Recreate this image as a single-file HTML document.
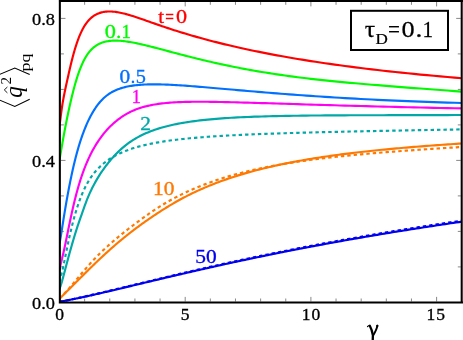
<!DOCTYPE html>
<html><head><meta charset="utf-8"><title>chart</title>
<style>html,body{margin:0;padding:0;background:#fff;}body{width:463px;height:340px;overflow:hidden;font-family:"Liberation Serif",serif;}</style>
</head><body>
<svg width="463" height="340" viewBox="0 0 463 340" style="display:block;will-change:transform">
<rect x="0" y="0" width="463" height="340" fill="#ffffff"/>
<path d="M84.64,301.50v-3.0M84.64,1.80v3.0M109.78,301.50v-3.0M109.78,1.80v3.0M134.92,301.50v-3.0M134.92,1.80v3.0M160.06,301.50v-3.0M160.06,1.80v3.0M185.20,301.50v-4.6M185.20,1.80v4.6M210.34,301.50v-3.0M210.34,1.80v3.0M235.48,301.50v-3.0M235.48,1.80v3.0M260.62,301.50v-3.0M260.62,1.80v3.0M285.76,301.50v-3.0M285.76,1.80v3.0M310.90,301.50v-4.6M310.90,1.80v4.6M336.04,301.50v-3.0M336.04,1.80v3.0M361.18,301.50v-3.0M361.18,1.80v3.0M386.32,301.50v-3.0M386.32,1.80v3.0M411.46,301.50v-3.0M411.46,1.80v3.0M436.60,301.50v-4.6M436.60,1.80v4.6M60.90,266.90h3.0M460.80,266.90h-3.0M60.90,231.40h3.0M460.80,231.40h-3.0M60.90,195.90h3.0M460.80,195.90h-3.0M60.90,160.40h4.6M460.80,160.40h-4.6M60.90,124.90h3.0M460.80,124.90h-3.0M60.90,89.40h3.0M460.80,89.40h-3.0M60.90,53.90h3.0M460.80,53.90h-3.0M60.90,18.40h4.6M460.80,18.40h-4.6" stroke="#555" stroke-width="0.7" fill="none"/>
<clipPath id="cp"><rect x="59.85" y="0" width="403.2" height="302.6"/></clipPath><g fill="none" stroke-width="2.15" stroke-linejoin="round" clip-path="url(#cp)">
<path d="M59.50,126.00 L59.57,125.48 L59.65,124.93 L59.72,124.37 L59.80,123.79 L59.87,123.20 L59.95,122.58 L60.03,121.95 L60.11,121.31 L60.20,120.65 L60.28,119.98 L60.37,119.30 L60.45,118.60 L60.54,117.89 L60.63,117.18 L60.73,116.45 L60.82,115.71 L60.92,114.97 L61.01,114.22 L61.11,113.46 L61.21,112.70 L61.32,111.94 L61.42,111.16 L61.53,110.39 L61.64,109.61 L61.75,108.84 L61.86,108.06 L61.98,107.28 L62.09,106.50 L62.21,105.73 L62.33,104.95 L62.45,104.18 L62.58,103.41 L62.71,102.65 L62.84,101.88 L62.97,101.12 L63.10,100.35 L63.24,99.59 L63.38,98.82 L63.52,98.05 L63.67,97.28 L63.81,96.51 L63.96,95.73 L64.11,94.95 L64.27,94.17 L64.43,93.38 L64.59,92.59 L64.75,91.78 L64.92,90.98 L65.09,90.16 L65.26,89.34 L65.44,88.51 L65.61,87.67 L65.80,86.82 L65.98,85.96 L66.17,85.09 L66.36,84.21 L66.56,83.32 L66.76,82.41 L66.96,81.49 L67.17,80.56 L67.38,79.62 L67.59,78.66 L67.81,77.68 L68.03,76.69 L68.25,75.69 L68.48,74.67 L68.72,73.63 L68.96,72.58 L69.20,71.51 L69.44,70.43 L69.70,69.34 L69.95,68.24 L70.21,67.12 L70.48,66.00 L70.75,64.87 L71.02,63.74 L71.30,62.59 L71.58,61.44 L71.87,60.29 L72.17,59.13 L72.47,57.96 L72.77,56.80 L73.08,55.63 L73.40,54.47 L73.72,53.30 L74.05,52.13 L74.39,50.97 L74.72,49.81 L75.07,48.65 L75.42,47.50 L75.78,46.36 L76.15,45.22 L76.52,44.08 L76.90,42.96 L77.28,41.85 L77.67,40.74 L78.07,39.65 L78.48,38.56 L78.89,37.49 L79.31,36.44 L79.74,35.39 L80.18,34.37 L80.62,33.36 L81.08,32.36 L81.54,31.39 L82.00,30.43 L82.48,29.49 L82.97,28.57 L83.46,27.68 L83.97,26.80 L84.48,25.95 L85.00,25.13 L85.53,24.32 L86.07,23.55 L86.62,22.80 L87.18,22.07 L87.75,21.36 L88.33,20.69 L88.92,20.03 L89.52,19.40 L90.14,18.80 L90.76,18.22 L91.40,17.66 L92.04,17.13 L92.70,16.62 L93.37,16.14 L94.05,15.68 L94.74,15.25 L95.45,14.84 L96.17,14.45 L96.90,14.09 L97.65,13.75 L98.41,13.43 L99.18,13.14 L99.96,12.88 L100.76,12.63 L101.58,12.41 L102.41,12.22 L103.25,12.05 L104.11,11.90 L104.99,11.77 L105.88,11.67 L106.79,11.59 L107.71,11.54 L108.65,11.51 L109.61,11.50 L110.58,11.51 L111.57,11.55 L112.58,11.61 L113.61,11.70 L114.65,11.80 L115.72,11.94 L116.80,12.09 L117.91,12.27 L119.03,12.46 L120.17,12.69 L121.34,12.93 L122.52,13.20 L123.73,13.49 L124.96,13.80 L126.21,14.13 L127.48,14.49 L128.77,14.86 L130.09,15.25 L131.44,15.66 L132.80,16.09 L134.19,16.54 L135.61,17.00 L137.05,17.48 L138.52,17.98 L140.01,18.48 L141.54,19.01 L143.08,19.55 L144.66,20.10 L146.27,20.66 L147.90,21.23 L149.56,21.82 L151.26,22.41 L152.98,23.02 L154.73,23.63 L156.52,24.26 L158.34,24.89 L160.19,25.53 L162.07,26.17 L163.99,26.82 L165.95,27.48 L167.93,28.14 L169.96,28.81 L172.02,29.48 L174.12,30.15 L176.25,30.83 L178.42,31.52 L180.64,32.20 L182.89,32.90 L185.18,33.59 L187.52,34.29 L189.89,34.99 L192.31,35.70 L194.77,36.40 L197.28,37.11 L199.83,37.83 L202.43,38.54 L205.08,39.26 L207.77,39.98 L210.51,40.70 L213.30,41.43 L216.14,42.15 L219.03,42.88 L221.98,43.61 L224.97,44.34 L228.02,45.07 L231.13,45.80 L234.29,46.53 L237.51,47.27 L240.78,48.00 L244.12,48.73 L247.51,49.47 L250.97,50.20 L254.49,50.93 L258.07,51.67 L261.72,52.40 L265.43,53.13 L269.21,53.86 L273.05,54.59 L276.97,55.32 L280.96,56.05 L285.01,56.77 L289.15,57.49 L293.35,58.22 L297.63,58.94 L301.99,59.65 L306.43,60.37 L310.94,61.08 L315.54,61.79 L320.22,62.50 L324.99,63.20 L329.84,63.90 L334.78,64.60 L339.80,65.30 L344.92,65.99 L350.13,66.67 L355.44,67.36 L360.83,68.04 L366.33,68.71 L371.92,69.38 L377.62,70.04 L383.42,70.71 L389.32,71.36 L395.33,72.01 L401.45,72.66 L407.67,73.30 L414.01,73.93 L420.47,74.56 L427.04,75.18 L433.72,75.80 L440.53,76.41 L447.46,77.01 L454.52,77.61 L461.70,78.20" stroke="#ff0000"/>
<path d="M59.50,159.60 L59.57,159.23 L59.65,158.85 L59.72,158.45 L59.80,158.04 L59.87,157.63 L59.95,157.20 L60.03,156.76 L60.11,156.31 L60.20,155.85 L60.28,155.37 L60.37,154.89 L60.45,154.39 L60.54,153.89 L60.63,153.37 L60.73,152.84 L60.82,152.30 L60.92,151.75 L61.01,151.19 L61.11,150.61 L61.21,150.03 L61.32,149.43 L61.42,148.83 L61.53,148.21 L61.64,147.58 L61.75,146.94 L61.86,146.29 L61.98,145.63 L62.09,144.96 L62.21,144.27 L62.33,143.58 L62.45,142.87 L62.58,142.16 L62.71,141.43 L62.84,140.69 L62.97,139.95 L63.10,139.19 L63.24,138.42 L63.38,137.64 L63.52,136.84 L63.67,136.04 L63.81,135.23 L63.96,134.41 L64.11,133.57 L64.27,132.73 L64.43,131.87 L64.59,131.00 L64.75,130.13 L64.92,129.24 L65.09,128.34 L65.26,127.43 L65.44,126.51 L65.61,125.59 L65.80,124.64 L65.98,123.69 L66.17,122.73 L66.36,121.76 L66.56,120.78 L66.76,119.79 L66.96,118.78 L67.17,117.77 L67.38,116.75 L67.59,115.71 L67.81,114.67 L68.03,113.61 L68.25,112.55 L68.48,111.47 L68.72,110.39 L68.96,109.29 L69.20,108.18 L69.44,107.07 L69.70,105.94 L69.95,104.80 L70.21,103.66 L70.48,102.50 L70.75,101.33 L71.02,100.15 L71.30,98.97 L71.58,97.77 L71.87,96.56 L72.17,95.35 L72.47,94.14 L72.77,92.91 L73.08,91.69 L73.40,90.46 L73.72,89.22 L74.05,87.99 L74.39,86.75 L74.72,85.52 L75.07,84.29 L75.42,83.06 L75.78,81.83 L76.15,80.60 L76.52,79.38 L76.90,78.17 L77.28,76.96 L77.67,75.76 L78.07,74.57 L78.48,73.39 L78.89,72.22 L79.31,71.06 L79.74,69.91 L80.18,68.78 L80.62,67.66 L81.08,66.55 L81.54,65.46 L82.00,64.39 L82.48,63.33 L82.97,62.30 L83.46,61.28 L83.97,60.28 L84.48,59.30 L85.00,58.35 L85.53,57.42 L86.07,56.51 L86.62,55.63 L87.18,54.78 L87.75,53.95 L88.33,53.14 L88.92,52.37 L89.52,51.62 L90.14,50.90 L90.76,50.21 L91.40,49.54 L92.04,48.90 L92.70,48.28 L93.37,47.69 L94.05,47.13 L94.74,46.59 L95.45,46.08 L96.17,45.59 L96.90,45.12 L97.65,44.68 L98.41,44.26 L99.18,43.87 L99.96,43.50 L100.76,43.16 L101.58,42.84 L102.41,42.54 L103.25,42.26 L104.11,42.01 L104.99,41.77 L105.88,41.56 L106.79,41.38 L107.71,41.21 L108.65,41.06 L109.61,40.94 L110.58,40.84 L111.57,40.75 L112.58,40.69 L113.61,40.65 L114.65,40.63 L115.72,40.62 L116.80,40.64 L117.91,40.68 L119.03,40.73 L120.17,40.80 L121.34,40.90 L122.52,41.01 L123.73,41.14 L124.96,41.28 L126.21,41.45 L127.48,41.63 L128.77,41.83 L130.09,42.04 L131.44,42.27 L132.80,42.52 L134.19,42.79 L135.61,43.07 L137.05,43.36 L138.52,43.68 L140.01,44.00 L141.54,44.35 L143.08,44.70 L144.66,45.07 L146.27,45.46 L147.90,45.86 L149.56,46.28 L151.26,46.70 L152.98,47.14 L154.73,47.60 L156.52,48.06 L158.34,48.54 L160.19,49.03 L162.07,49.53 L163.99,50.04 L165.95,50.56 L167.93,51.09 L169.96,51.63 L172.02,52.18 L174.12,52.73 L176.25,53.30 L178.42,53.87 L180.64,54.45 L182.89,55.04 L185.18,55.63 L187.52,56.23 L189.89,56.83 L192.31,57.44 L194.77,58.06 L197.28,58.68 L199.83,59.30 L202.43,59.93 L205.08,60.56 L207.77,61.19 L210.51,61.82 L213.30,62.46 L216.14,63.10 L219.03,63.73 L221.98,64.37 L224.97,65.01 L228.02,65.65 L231.13,66.29 L234.29,66.93 L237.51,67.56 L240.78,68.20 L244.12,68.83 L247.51,69.46 L250.97,70.09 L254.49,70.71 L258.07,71.33 L261.72,71.94 L265.43,72.55 L269.21,73.15 L273.05,73.75 L276.97,74.35 L280.96,74.93 L285.01,75.51 L289.15,76.08 L293.35,76.65 L297.63,77.20 L301.99,77.75 L306.43,78.29 L310.94,78.82 L315.54,79.34 L320.22,79.86 L324.99,80.36 L329.84,80.86 L334.78,81.36 L339.80,81.85 L344.92,82.33 L350.13,82.81 L355.44,83.29 L360.83,83.77 L366.33,84.24 L371.92,84.72 L377.62,85.19 L383.42,85.66 L389.32,86.14 L395.33,86.61 L401.45,87.09 L407.67,87.57 L414.01,88.06 L420.47,88.54 L427.04,89.04 L433.72,89.54 L440.53,90.04 L447.46,90.55 L454.52,91.07 L461.70,91.60" stroke="#00fa00"/>
<path d="M59.50,243.50 L59.57,243.16 L59.65,242.81 L59.72,242.43 L59.80,242.05 L59.87,241.65 L59.95,241.23 L60.03,240.79 L60.11,240.35 L60.20,239.88 L60.28,239.40 L60.37,238.91 L60.45,238.40 L60.54,237.87 L60.63,237.33 L60.73,236.78 L60.82,236.21 L60.92,235.63 L61.01,235.03 L61.11,234.42 L61.21,233.79 L61.32,233.15 L61.42,232.49 L61.53,231.82 L61.64,231.13 L61.75,230.43 L61.86,229.72 L61.98,228.99 L62.09,228.25 L62.21,227.50 L62.33,226.73 L62.45,225.95 L62.58,225.15 L62.71,224.34 L62.84,223.52 L62.97,222.68 L63.10,221.83 L63.24,220.97 L63.38,220.09 L63.52,219.20 L63.67,218.30 L63.81,217.38 L63.96,216.45 L64.11,215.51 L64.27,214.56 L64.43,213.59 L64.59,212.61 L64.75,211.62 L64.92,210.61 L65.09,209.59 L65.26,208.56 L65.44,207.52 L65.61,206.47 L65.80,205.40 L65.98,204.32 L66.17,203.23 L66.36,202.13 L66.56,201.02 L66.76,199.89 L66.96,198.75 L67.17,197.60 L67.38,196.44 L67.59,195.27 L67.81,194.09 L68.03,192.89 L68.25,191.69 L68.48,190.47 L68.72,189.24 L68.96,188.00 L69.20,186.75 L69.44,185.49 L69.70,184.22 L69.95,182.94 L70.21,181.64 L70.48,180.34 L70.75,179.02 L71.02,177.70 L71.30,176.37 L71.58,175.03 L71.87,173.68 L72.17,172.33 L72.47,170.97 L72.77,169.60 L73.08,168.23 L73.40,166.85 L73.72,165.47 L74.05,164.08 L74.39,162.69 L74.72,161.30 L75.07,159.90 L75.42,158.50 L75.78,157.10 L76.15,155.70 L76.52,154.30 L76.90,152.90 L77.28,151.50 L77.67,150.11 L78.07,148.71 L78.48,147.31 L78.89,145.92 L79.31,144.53 L79.74,143.15 L80.18,141.77 L80.62,140.39 L81.08,139.02 L81.54,137.65 L82.00,136.29 L82.48,134.94 L82.97,133.59 L83.46,132.26 L83.97,130.93 L84.48,129.61 L85.00,128.30 L85.53,127.00 L86.07,125.71 L86.62,124.43 L87.18,123.16 L87.75,121.90 L88.33,120.66 L88.92,119.43 L89.52,118.21 L90.14,117.01 L90.76,115.82 L91.40,114.65 L92.04,113.50 L92.70,112.36 L93.37,111.24 L94.05,110.14 L94.74,109.06 L95.45,107.99 L96.17,106.95 L96.90,105.93 L97.65,104.93 L98.41,103.95 L99.18,102.99 L99.96,102.06 L100.76,101.15 L101.58,100.27 L102.41,99.41 L103.25,98.58 L104.11,97.77 L104.99,96.99 L105.88,96.24 L106.79,95.51 L107.71,94.82 L108.65,94.15 L109.61,93.51 L110.58,92.90 L111.57,92.31 L112.58,91.75 L113.61,91.21 L114.65,90.70 L115.72,90.21 L116.80,89.75 L117.91,89.31 L119.03,88.89 L120.17,88.49 L121.34,88.12 L122.52,87.76 L123.73,87.43 L124.96,87.12 L126.21,86.82 L127.48,86.55 L128.77,86.29 L130.09,86.05 L131.44,85.83 L132.80,85.63 L134.19,85.44 L135.61,85.27 L137.05,85.11 L138.52,84.97 L140.01,84.84 L141.54,84.73 L143.08,84.63 L144.66,84.55 L146.27,84.48 L147.90,84.43 L149.56,84.39 L151.26,84.36 L152.98,84.35 L154.73,84.34 L156.52,84.36 L158.34,84.38 L160.19,84.41 L162.07,84.46 L163.99,84.52 L165.95,84.59 L167.93,84.67 L169.96,84.76 L172.02,84.86 L174.12,84.98 L176.25,85.10 L178.42,85.23 L180.64,85.37 L182.89,85.52 L185.18,85.68 L187.52,85.85 L189.89,86.03 L192.31,86.21 L194.77,86.40 L197.28,86.61 L199.83,86.81 L202.43,87.03 L205.08,87.25 L207.77,87.48 L210.51,87.72 L213.30,87.96 L216.14,88.21 L219.03,88.46 L221.98,88.72 L224.97,88.98 L228.02,89.25 L231.13,89.53 L234.29,89.80 L237.51,90.09 L240.78,90.37 L244.12,90.66 L247.51,90.96 L250.97,91.25 L254.49,91.55 L258.07,91.85 L261.72,92.16 L265.43,92.46 L269.21,92.77 L273.05,93.08 L276.97,93.39 L280.96,93.71 L285.01,94.02 L289.15,94.33 L293.35,94.65 L297.63,94.96 L301.99,95.28 L306.43,95.59 L310.94,95.91 L315.54,96.22 L320.22,96.53 L324.99,96.84 L329.84,97.15 L334.78,97.45 L339.80,97.76 L344.92,98.06 L350.13,98.36 L355.44,98.66 L360.83,98.95 L366.33,99.24 L371.92,99.52 L377.62,99.81 L383.42,100.08 L389.32,100.36 L395.33,100.63 L401.45,100.89 L407.67,101.15 L414.01,101.40 L420.47,101.65 L427.04,101.89 L433.72,102.13 L440.53,102.35 L447.46,102.58 L454.52,102.79 L461.70,103.00" stroke="#0070ff"/>
<path d="M59.50,270.00 L59.57,269.59 L59.65,269.18 L59.72,268.77 L59.80,268.37 L59.87,267.97 L59.95,267.57 L60.03,267.17 L60.11,266.78 L60.20,266.39 L60.28,265.99 L60.37,265.60 L60.45,265.21 L60.54,264.81 L60.63,264.41 L60.73,264.01 L60.82,263.61 L60.92,263.20 L61.01,262.79 L61.11,262.38 L61.21,261.96 L61.32,261.53 L61.42,261.10 L61.53,260.66 L61.64,260.22 L61.75,259.76 L61.86,259.30 L61.98,258.83 L62.09,258.35 L62.21,257.86 L62.33,257.36 L62.45,256.85 L62.58,256.33 L62.71,255.80 L62.84,255.25 L62.97,254.69 L63.10,254.12 L63.24,253.53 L63.38,252.93 L63.52,252.31 L63.67,251.68 L63.81,251.03 L63.96,250.37 L64.11,249.69 L64.27,248.99 L64.43,248.27 L64.59,247.53 L64.75,246.78 L64.92,246.00 L65.09,245.20 L65.26,244.39 L65.44,243.55 L65.61,242.69 L65.80,241.80 L65.98,240.90 L66.17,239.98 L66.36,239.03 L66.56,238.07 L66.76,237.09 L66.96,236.08 L67.17,235.06 L67.38,234.02 L67.59,232.96 L67.81,231.89 L68.03,230.79 L68.25,229.68 L68.48,228.56 L68.72,227.41 L68.96,226.25 L69.20,225.08 L69.44,223.89 L69.70,222.68 L69.95,221.46 L70.21,220.23 L70.48,218.98 L70.75,217.72 L71.02,216.45 L71.30,215.16 L71.58,213.86 L71.87,212.55 L72.17,211.23 L72.47,209.90 L72.77,208.55 L73.08,207.20 L73.40,205.84 L73.72,204.47 L74.05,203.10 L74.39,201.72 L74.72,200.33 L75.07,198.94 L75.42,197.54 L75.78,196.14 L76.15,194.74 L76.52,193.33 L76.90,191.92 L77.28,190.51 L77.67,189.10 L78.07,187.70 L78.48,186.29 L78.89,184.88 L79.31,183.48 L79.74,182.08 L80.18,180.68 L80.62,179.29 L81.08,177.90 L81.54,176.52 L82.00,175.15 L82.48,173.78 L82.97,172.41 L83.46,171.06 L83.97,169.71 L84.48,168.36 L85.00,167.02 L85.53,165.69 L86.07,164.37 L86.62,163.06 L87.18,161.75 L87.75,160.45 L88.33,159.16 L88.92,157.87 L89.52,156.60 L90.14,155.33 L90.76,154.08 L91.40,152.83 L92.04,151.59 L92.70,150.36 L93.37,149.14 L94.05,147.93 L94.74,146.73 L95.45,145.54 L96.17,144.36 L96.90,143.19 L97.65,142.04 L98.41,140.89 L99.18,139.75 L99.96,138.63 L100.76,137.52 L101.58,136.42 L102.41,135.33 L103.25,134.25 L104.11,133.19 L104.99,132.14 L105.88,131.10 L106.79,130.07 L107.71,129.06 L108.65,128.06 L109.61,127.08 L110.58,126.11 L111.57,125.15 L112.58,124.21 L113.61,123.28 L114.65,122.36 L115.72,121.46 L116.80,120.58 L117.91,119.71 L119.03,118.86 L120.17,118.02 L121.34,117.21 L122.52,116.41 L123.73,115.63 L124.96,114.87 L126.21,114.13 L127.48,113.41 L128.77,112.72 L130.09,112.04 L131.44,111.39 L132.80,110.77 L134.19,110.17 L135.61,109.59 L137.05,109.04 L138.52,108.51 L140.01,108.01 L141.54,107.53 L143.08,107.07 L144.66,106.64 L146.27,106.23 L147.90,105.84 L149.56,105.47 L151.26,105.12 L152.98,104.79 L154.73,104.48 L156.52,104.19 L158.34,103.92 L160.19,103.67 L162.07,103.44 L163.99,103.22 L165.95,103.02 L167.93,102.84 L169.96,102.67 L172.02,102.52 L174.12,102.38 L176.25,102.26 L178.42,102.15 L180.64,102.06 L182.89,101.98 L185.18,101.91 L187.52,101.85 L189.89,101.81 L192.31,101.77 L194.77,101.75 L197.28,101.74 L199.83,101.73 L202.43,101.74 L205.08,101.76 L207.77,101.78 L210.51,101.81 L213.30,101.85 L216.14,101.90 L219.03,101.95 L221.98,102.01 L224.97,102.08 L228.02,102.15 L231.13,102.22 L234.29,102.30 L237.51,102.38 L240.78,102.47 L244.12,102.56 L247.51,102.65 L250.97,102.75 L254.49,102.86 L258.07,102.96 L261.72,103.07 L265.43,103.18 L269.21,103.30 L273.05,103.41 L276.97,103.53 L280.96,103.66 L285.01,103.78 L289.15,103.91 L293.35,104.04 L297.63,104.18 L301.99,104.31 L306.43,104.45 L310.94,104.59 L315.54,104.73 L320.22,104.87 L324.99,105.01 L329.84,105.15 L334.78,105.30 L339.80,105.45 L344.92,105.59 L350.13,105.74 L355.44,105.89 L360.83,106.04 L366.33,106.19 L371.92,106.34 L377.62,106.49 L383.42,106.64 L389.32,106.79 L395.33,106.94 L401.45,107.09 L407.67,107.24 L414.01,107.39 L420.47,107.54 L427.04,107.68 L433.72,107.83 L440.53,107.97 L447.46,108.12 L454.52,108.26 L461.70,108.40" stroke="#ff00f0"/>
<path d="M59.50,288.50 L59.57,288.37 L59.65,288.23 L59.72,288.09 L59.80,287.93 L59.87,287.76 L59.95,287.58 L60.03,287.40 L60.11,287.20 L60.20,286.99 L60.28,286.77 L60.37,286.54 L60.45,286.30 L60.54,286.05 L60.63,285.79 L60.73,285.52 L60.82,285.24 L60.92,284.95 L61.01,284.65 L61.11,284.33 L61.21,284.01 L61.32,283.68 L61.42,283.33 L61.53,282.98 L61.64,282.61 L61.75,282.23 L61.86,281.85 L61.98,281.45 L62.09,281.04 L62.21,280.62 L62.33,280.19 L62.45,279.75 L62.58,279.29 L62.71,278.83 L62.84,278.35 L62.97,277.87 L63.10,277.37 L63.24,276.86 L63.38,276.34 L63.52,275.81 L63.67,275.27 L63.81,274.71 L63.96,274.15 L64.11,273.57 L64.27,272.98 L64.43,272.38 L64.59,271.77 L64.75,271.15 L64.92,270.52 L65.09,269.87 L65.26,269.21 L65.44,268.54 L65.61,267.86 L65.80,267.17 L65.98,266.47 L66.17,265.75 L66.36,265.02 L66.56,264.28 L66.76,263.53 L66.96,262.77 L67.17,261.99 L67.38,261.21 L67.59,260.41 L67.81,259.60 L68.03,258.77 L68.25,257.94 L68.48,257.09 L68.72,256.23 L68.96,255.36 L69.20,254.47 L69.44,253.57 L69.70,252.66 L69.95,251.74 L70.21,250.81 L70.48,249.86 L70.75,248.90 L71.02,247.93 L71.30,246.95 L71.58,245.95 L71.87,244.94 L72.17,243.92 L72.47,242.88 L72.77,241.83 L73.08,240.77 L73.40,239.70 L73.72,238.62 L74.05,237.52 L74.39,236.40 L74.72,235.28 L75.07,234.14 L75.42,232.99 L75.78,231.83 L76.15,230.66 L76.52,229.49 L76.90,228.31 L77.28,227.12 L77.67,225.93 L78.07,224.74 L78.48,223.55 L78.89,222.35 L79.31,221.14 L79.74,219.92 L80.18,218.68 L80.62,217.43 L81.08,216.15 L81.54,214.84 L82.00,213.50 L82.48,212.13 L82.97,210.73 L83.46,209.30 L83.97,207.86 L84.48,206.41 L85.00,204.96 L85.53,203.51 L86.07,202.06 L86.62,200.64 L87.18,199.22 L87.75,197.82 L88.33,196.43 L88.92,195.05 L89.52,193.69 L90.14,192.33 L90.76,190.99 L91.40,189.66 L92.04,188.34 L92.70,187.03 L93.37,185.73 L94.05,184.44 L94.74,183.15 L95.45,181.88 L96.17,180.61 L96.90,179.36 L97.65,178.11 L98.41,176.86 L99.18,175.63 L99.96,174.40 L100.76,173.18 L101.58,171.96 L102.41,170.75 L103.25,169.54 L104.11,168.34 L104.99,167.15 L105.88,165.95 L106.79,164.77 L107.71,163.58 L108.65,162.40 L109.61,161.23 L110.58,160.06 L111.57,158.90 L112.58,157.75 L113.61,156.60 L114.65,155.47 L115.72,154.35 L116.80,153.23 L117.91,152.13 L119.03,151.05 L120.17,149.98 L121.34,148.92 L122.52,147.87 L123.73,146.85 L124.96,145.84 L126.21,144.85 L127.48,143.88 L128.77,142.93 L130.09,141.99 L131.44,141.08 L132.80,140.20 L134.19,139.33 L135.61,138.48 L137.05,137.65 L138.52,136.85 L140.01,136.06 L141.54,135.29 L143.08,134.54 L144.66,133.81 L146.27,133.10 L147.90,132.41 L149.56,131.74 L151.26,131.08 L152.98,130.45 L154.73,129.83 L156.52,129.22 L158.34,128.64 L160.19,128.07 L162.07,127.52 L163.99,126.98 L165.95,126.46 L167.93,125.96 L169.96,125.47 L172.02,125.00 L174.12,124.54 L176.25,124.10 L178.42,123.67 L180.64,123.25 L182.89,122.85 L185.18,122.47 L187.52,122.10 L189.89,121.74 L192.31,121.39 L194.77,121.06 L197.28,120.74 L199.83,120.43 L202.43,120.13 L205.08,119.85 L207.77,119.57 L210.51,119.31 L213.30,119.06 L216.14,118.82 L219.03,118.59 L221.98,118.37 L224.97,118.16 L228.02,117.97 L231.13,117.78 L234.29,117.60 L237.51,117.42 L240.78,117.26 L244.12,117.11 L247.51,116.96 L250.97,116.82 L254.49,116.69 L258.07,116.57 L261.72,116.46 L265.43,116.35 L269.21,116.25 L273.05,116.15 L276.97,116.07 L280.96,115.98 L285.01,115.91 L289.15,115.84 L293.35,115.77 L297.63,115.71 L301.99,115.65 L306.43,115.60 L310.94,115.55 L315.54,115.51 L320.22,115.47 L324.99,115.44 L329.84,115.40 L334.78,115.37 L339.80,115.35 L344.92,115.32 L350.13,115.30 L355.44,115.28 L360.83,115.26 L366.33,115.24 L371.92,115.23 L377.62,115.21 L383.42,115.20 L389.32,115.19 L395.33,115.17 L401.45,115.16 L407.67,115.15 L414.01,115.13 L420.47,115.12 L427.04,115.10 L433.72,115.09 L440.53,115.07 L447.46,115.05 L454.52,115.02 L461.70,115.00" stroke="#00a8a8"/>
<path d="M59.50,282.00 L59.57,281.64 L59.65,281.29 L59.72,280.94 L59.80,280.59 L59.87,280.25 L59.95,279.92 L60.03,279.58 L60.11,279.24 L60.20,278.91 L60.28,278.57 L60.37,278.24 L60.45,277.90 L60.54,277.56 L60.63,277.21 L60.73,276.86 L60.82,276.51 L60.92,276.15 L61.01,275.78 L61.11,275.41 L61.21,275.03 L61.32,274.64 L61.42,274.24 L61.53,273.83 L61.64,273.41 L61.75,272.98 L61.86,272.53 L61.98,272.07 L62.09,271.60 L62.21,271.11 L62.33,270.61 L62.45,270.09 L62.58,269.56 L62.71,269.00 L62.84,268.43 L62.97,267.84 L63.10,267.23 L63.24,266.59 L63.38,265.94 L63.52,265.27 L63.67,264.58 L63.81,263.87 L63.96,263.14 L64.11,262.40 L64.27,261.64 L64.43,260.86 L64.59,260.06 L64.75,259.24 L64.92,258.41 L65.09,257.57 L65.26,256.71 L65.44,255.83 L65.61,254.94 L65.80,254.03 L65.98,253.11 L66.17,252.17 L66.36,251.22 L66.56,250.26 L66.76,249.28 L66.96,248.30 L67.17,247.30 L67.38,246.28 L67.59,245.26 L67.81,244.22 L68.03,243.18 L68.25,242.12 L68.48,241.05 L68.72,239.97 L68.96,238.89 L69.20,237.79 L69.44,236.68 L69.70,235.57 L69.95,234.45 L70.21,233.31 L70.48,232.18 L70.75,231.03 L71.02,229.88 L71.30,228.72 L71.58,227.55 L71.87,226.38 L72.17,225.20 L72.47,224.02 L72.77,222.83 L73.08,221.64 L73.40,220.44 L73.72,219.24 L74.05,218.04 L74.39,216.83 L74.72,215.62 L75.07,214.41 L75.42,213.20 L75.78,212.00 L76.15,210.79 L76.52,209.58 L76.90,208.37 L77.28,207.17 L77.67,205.97 L78.07,204.77 L78.48,203.58 L78.89,202.39 L79.31,201.21 L79.74,200.03 L80.18,198.86 L80.62,197.69 L81.08,196.54 L81.54,195.39 L82.00,194.25 L82.48,193.12 L82.97,192.00 L83.46,190.88 L83.97,189.78 L84.48,188.70 L85.00,187.62 L85.53,186.56 L86.07,185.51 L86.62,184.47 L87.18,183.45 L87.75,182.44 L88.33,181.45 L88.92,180.47 L89.52,179.50 L90.14,178.55 L90.76,177.61 L91.40,176.69 L92.04,175.78 L92.70,174.89 L93.37,174.00 L94.05,173.13 L94.74,172.28 L95.45,171.44 L96.17,170.61 L96.90,169.79 L97.65,168.98 L98.41,168.19 L99.18,167.41 L99.96,166.65 L100.76,165.89 L101.58,165.15 L102.41,164.42 L103.25,163.70 L104.11,162.99 L104.99,162.30 L105.88,161.61 L106.79,160.94 L107.71,160.28 L108.65,159.63 L109.61,158.99 L110.58,158.36 L111.57,157.75 L112.58,157.14 L113.61,156.54 L114.65,155.96 L115.72,155.38 L116.80,154.82 L117.91,154.26 L119.03,153.72 L120.17,153.18 L121.34,152.66 L122.52,152.14 L123.73,151.64 L124.96,151.14 L126.21,150.65 L127.48,150.17 L128.77,149.70 L130.09,149.24 L131.44,148.79 L132.80,148.35 L134.19,147.91 L135.61,147.49 L137.05,147.07 L138.52,146.66 L140.01,146.26 L141.54,145.86 L143.08,145.48 L144.66,145.10 L146.27,144.73 L147.90,144.37 L149.56,144.01 L151.26,143.66 L152.98,143.32 L154.73,142.99 L156.52,142.66 L158.34,142.34 L160.19,142.03 L162.07,141.72 L163.99,141.42 L165.95,141.12 L167.93,140.84 L169.96,140.55 L172.02,140.28 L174.12,140.01 L176.25,139.75 L178.42,139.49 L180.64,139.24 L182.89,138.99 L185.18,138.75 L187.52,138.51 L189.89,138.28 L192.31,138.05 L194.77,137.83 L197.28,137.62 L199.83,137.41 L202.43,137.20 L205.08,137.00 L207.77,136.80 L210.51,136.61 L213.30,136.42 L216.14,136.23 L219.03,136.05 L221.98,135.87 L224.97,135.70 L228.02,135.53 L231.13,135.36 L234.29,135.20 L237.51,135.04 L240.78,134.88 L244.12,134.72 L247.51,134.57 L250.97,134.43 L254.49,134.28 L258.07,134.14 L261.72,134.00 L265.43,133.86 L269.21,133.72 L273.05,133.59 L276.97,133.46 L280.96,133.33 L285.01,133.20 L289.15,133.07 L293.35,132.95 L297.63,132.83 L301.99,132.70 L306.43,132.58 L310.94,132.46 L315.54,132.35 L320.22,132.23 L324.99,132.11 L329.84,132.00 L334.78,131.88 L339.80,131.77 L344.92,131.65 L350.13,131.54 L355.44,131.42 L360.83,131.31 L366.33,131.20 L371.92,131.08 L377.62,130.97 L383.42,130.85 L389.32,130.74 L395.33,130.62 L401.45,130.50 L407.67,130.39 L414.01,130.27 L420.47,130.15 L427.04,130.03 L433.72,129.90 L440.53,129.78 L447.46,129.66 L454.52,129.53 L461.70,129.40" stroke="#00a8a8" stroke-dasharray="3.4 3.0"/>
<path d="M59.50,298.60 L60.26,297.87 L61.02,297.14 L61.78,296.40 L62.55,295.66 L63.32,294.91 L64.10,294.15 L64.88,293.38 L65.66,292.61 L66.45,291.84 L67.24,291.05 L68.04,290.26 L68.84,289.47 L69.64,288.67 L70.45,287.87 L71.26,287.06 L72.08,286.24 L72.90,285.42 L73.72,284.60 L74.55,283.77 L75.38,282.93 L76.22,282.10 L77.06,281.25 L77.90,280.41 L78.75,279.56 L79.61,278.70 L80.47,277.85 L81.33,276.98 L82.20,276.12 L83.07,275.25 L83.94,274.38 L84.82,273.51 L85.71,272.63 L86.60,271.75 L87.49,270.87 L88.39,269.99 L89.29,269.10 L90.20,268.21 L91.11,267.32 L92.02,266.43 L92.94,265.53 L93.87,264.64 L94.80,263.74 L95.73,262.84 L96.67,261.94 L97.62,261.04 L98.57,260.14 L99.52,259.24 L100.48,258.34 L101.44,257.43 L102.41,256.53 L103.38,255.62 L104.36,254.72 L105.35,253.82 L106.33,252.91 L107.33,252.01 L108.32,251.11 L109.33,250.21 L110.34,249.30 L111.35,248.40 L112.37,247.50 L113.39,246.61 L114.42,245.71 L115.45,244.81 L116.49,243.92 L117.54,243.03 L118.59,242.14 L119.64,241.25 L120.70,240.36 L121.77,239.48 L122.84,238.60 L123.91,237.72 L124.99,236.84 L126.08,235.97 L127.17,235.10 L128.27,234.23 L129.38,233.36 L130.49,232.50 L131.60,231.64 L132.72,230.78 L133.85,229.92 L134.98,229.07 L136.12,228.22 L137.26,227.37 L138.41,226.52 L139.56,225.67 L140.72,224.83 L141.89,223.98 L143.06,223.14 L144.24,222.31 L145.42,221.47 L146.61,220.63 L147.81,219.80 L149.01,218.96 L150.22,218.13 L151.44,217.30 L152.66,216.47 L153.88,215.65 L155.12,214.82 L156.35,214.00 L157.60,213.17 L158.85,212.36 L160.11,211.54 L161.37,210.72 L162.64,209.91 L163.92,209.11 L165.20,208.30 L166.49,207.50 L167.79,206.71 L169.09,205.92 L170.40,205.13 L171.72,204.35 L173.04,203.57 L174.37,202.80 L175.71,202.03 L177.05,201.27 L178.40,200.51 L179.76,199.76 L181.12,199.02 L182.49,198.29 L183.87,197.56 L185.25,196.83 L186.64,196.12 L188.04,195.40 L189.45,194.70 L190.86,194.00 L192.28,193.31 L193.70,192.63 L195.14,191.95 L196.58,191.27 L198.03,190.61 L199.48,189.95 L200.95,189.29 L202.42,188.65 L203.89,188.01 L205.38,187.37 L206.87,186.74 L208.37,186.12 L209.88,185.50 L211.39,184.89 L212.92,184.29 L214.45,183.69 L215.99,183.10 L217.53,182.51 L219.09,181.93 L220.65,181.35 L222.22,180.78 L223.79,180.22 L225.38,179.66 L226.97,179.11 L228.58,178.56 L230.19,178.02 L231.80,177.48 L233.43,176.95 L235.06,176.43 L236.71,175.91 L238.36,175.39 L240.01,174.89 L241.68,174.38 L243.36,173.88 L245.04,173.39 L246.73,172.90 L248.44,172.42 L250.15,171.94 L251.86,171.47 L253.59,171.00 L255.33,170.54 L257.07,170.08 L258.83,169.62 L260.59,169.18 L262.36,168.73 L264.14,168.29 L265.93,167.86 L267.73,167.43 L269.53,167.00 L271.35,166.58 L273.17,166.17 L275.01,165.76 L276.85,165.35 L278.71,164.95 L280.57,164.55 L282.44,164.15 L284.32,163.76 L286.21,163.38 L288.11,163.00 L290.02,162.62 L291.94,162.25 L293.87,161.88 L295.81,161.51 L297.76,161.15 L299.72,160.80 L301.69,160.44 L303.67,160.10 L305.65,159.75 L307.65,159.41 L309.66,159.07 L311.68,158.74 L313.71,158.41 L315.75,158.08 L317.80,157.76 L319.86,157.44 L321.93,157.13 L324.01,156.81 L326.10,156.50 L328.20,156.20 L330.31,155.90 L332.43,155.60 L334.57,155.30 L336.71,155.01 L338.87,154.72 L341.03,154.44 L343.21,154.16 L345.40,153.88 L347.60,153.60 L349.81,153.33 L352.03,153.06 L354.26,152.79 L356.50,152.53 L358.76,152.26 L361.03,152.00 L363.30,151.75 L365.59,151.50 L367.89,151.24 L370.21,151.00 L372.53,150.75 L374.87,150.51 L377.21,150.27 L379.57,150.03 L381.94,149.80 L384.33,149.56 L386.72,149.33 L389.13,149.10 L391.55,148.88 L393.98,148.65 L396.43,148.43 L398.88,148.21 L401.35,148.00 L403.83,147.78 L406.33,147.57 L408.83,147.36 L411.35,147.15 L413.88,146.94 L416.43,146.74 L418.98,146.53 L421.55,146.33 L424.14,146.13 L426.73,145.93 L429.34,145.74 L431.97,145.54 L434.60,145.35 L437.25,145.16 L439.91,144.97 L442.59,144.78 L445.28,144.59 L447.98,144.41 L450.70,144.22 L453.43,144.04 L456.17,143.86 L458.93,143.68 L461.70,143.50" stroke="#ff7800"/>
<path d="M59.50,298.60 L60.26,297.86 L61.02,297.10 L61.78,296.32 L62.55,295.52 L63.32,294.71 L64.10,293.88 L64.88,293.03 L65.66,292.17 L66.45,291.30 L67.24,290.41 L68.04,289.50 L68.84,288.59 L69.64,287.66 L70.45,286.72 L71.26,285.77 L72.08,284.82 L72.90,283.85 L73.72,282.87 L74.55,281.89 L75.38,280.90 L76.22,279.90 L77.06,278.90 L77.90,277.89 L78.75,276.87 L79.61,275.86 L80.47,274.84 L81.33,273.81 L82.20,272.79 L83.07,271.76 L83.94,270.74 L84.82,269.71 L85.71,268.68 L86.60,267.66 L87.49,266.64 L88.39,265.62 L89.29,264.60 L90.20,263.59 L91.11,262.58 L92.02,261.58 L92.94,260.59 L93.87,259.60 L94.80,258.62 L95.73,257.64 L96.67,256.68 L97.62,255.71 L98.57,254.76 L99.52,253.81 L100.48,252.87 L101.44,251.94 L102.41,251.01 L103.38,250.08 L104.36,249.17 L105.35,248.25 L106.33,247.34 L107.33,246.44 L108.32,245.54 L109.33,244.65 L110.34,243.76 L111.35,242.87 L112.37,241.99 L113.39,241.11 L114.42,240.23 L115.45,239.35 L116.49,238.48 L117.54,237.62 L118.59,236.75 L119.64,235.88 L120.70,235.02 L121.77,234.16 L122.84,233.30 L123.91,232.45 L124.99,231.59 L126.08,230.73 L127.17,229.88 L128.27,229.02 L129.38,228.17 L130.49,227.32 L131.60,226.46 L132.72,225.61 L133.85,224.75 L134.98,223.89 L136.12,223.04 L137.26,222.18 L138.41,221.33 L139.56,220.47 L140.72,219.62 L141.89,218.77 L143.06,217.92 L144.24,217.07 L145.42,216.23 L146.61,215.38 L147.81,214.54 L149.01,213.71 L150.22,212.87 L151.44,212.04 L152.66,211.22 L153.88,210.40 L155.12,209.58 L156.35,208.77 L157.60,207.97 L158.85,207.17 L160.11,206.37 L161.37,205.59 L162.64,204.81 L163.92,204.03 L165.20,203.26 L166.49,202.50 L167.79,201.75 L169.09,201.01 L170.40,200.27 L171.72,199.54 L173.04,198.82 L174.37,198.10 L175.71,197.39 L177.05,196.69 L178.40,196.00 L179.76,195.31 L181.12,194.63 L182.49,193.96 L183.87,193.29 L185.25,192.63 L186.64,191.98 L188.04,191.34 L189.45,190.70 L190.86,190.07 L192.28,189.44 L193.70,188.82 L195.14,188.21 L196.58,187.61 L198.03,187.01 L199.48,186.42 L200.95,185.83 L202.42,185.25 L203.89,184.68 L205.38,184.12 L206.87,183.56 L208.37,183.00 L209.88,182.46 L211.39,181.91 L212.92,181.38 L214.45,180.85 L215.99,180.33 L217.53,179.81 L219.09,179.30 L220.65,178.80 L222.22,178.30 L223.79,177.81 L225.38,177.32 L226.97,176.84 L228.58,176.37 L230.19,175.90 L231.80,175.43 L233.43,174.98 L235.06,174.52 L236.71,174.08 L238.36,173.63 L240.01,173.20 L241.68,172.77 L243.36,172.34 L245.04,171.92 L246.73,171.50 L248.44,171.09 L250.15,170.69 L251.86,170.29 L253.59,169.89 L255.33,169.50 L257.07,169.11 L258.83,168.73 L260.59,168.36 L262.36,167.98 L264.14,167.62 L265.93,167.25 L267.73,166.89 L269.53,166.54 L271.35,166.19 L273.17,165.85 L275.01,165.50 L276.85,165.17 L278.71,164.84 L280.57,164.51 L282.44,164.18 L284.32,163.86 L286.21,163.55 L288.11,163.23 L290.02,162.92 L291.94,162.62 L293.87,162.32 L295.81,162.02 L297.76,161.73 L299.72,161.44 L301.69,161.15 L303.67,160.87 L305.65,160.59 L307.65,160.31 L309.66,160.04 L311.68,159.77 L313.71,159.50 L315.75,159.24 L317.80,158.98 L319.86,158.72 L321.93,158.46 L324.01,158.21 L326.10,157.96 L328.20,157.72 L330.31,157.47 L332.43,157.23 L334.57,157.00 L336.71,156.76 L338.87,156.53 L341.03,156.30 L343.21,156.07 L345.40,155.85 L347.60,155.62 L349.81,155.40 L352.03,155.19 L354.26,154.97 L356.50,154.76 L358.76,154.54 L361.03,154.33 L363.30,154.13 L365.59,153.92 L367.89,153.72 L370.21,153.51 L372.53,153.31 L374.87,153.12 L377.21,152.92 L379.57,152.72 L381.94,152.53 L384.33,152.34 L386.72,152.15 L389.13,151.96 L391.55,151.77 L393.98,151.58 L396.43,151.40 L398.88,151.21 L401.35,151.03 L403.83,150.85 L406.33,150.66 L408.83,150.48 L411.35,150.31 L413.88,150.13 L416.43,149.95 L418.98,149.77 L421.55,149.60 L424.14,149.42 L426.73,149.25 L429.34,149.07 L431.97,148.90 L434.60,148.72 L437.25,148.55 L439.91,148.38 L442.59,148.20 L445.28,148.03 L447.98,147.86 L450.70,147.69 L453.43,147.52 L456.17,147.34 L458.93,147.17 L461.70,147.00" stroke="#ff7800" stroke-dasharray="3.4 3.0"/>
<path d="M59.50,301.80 L60.26,301.66 L61.02,301.53 L61.78,301.39 L62.55,301.25 L63.32,301.10 L64.10,300.96 L64.88,300.81 L65.66,300.66 L66.45,300.51 L67.24,300.36 L68.04,300.21 L68.84,300.05 L69.64,299.89 L70.45,299.73 L71.26,299.57 L72.08,299.40 L72.90,299.24 L73.72,299.07 L74.55,298.90 L75.38,298.73 L76.22,298.56 L77.06,298.38 L77.90,298.20 L78.75,298.02 L79.61,297.84 L80.47,297.66 L81.33,297.48 L82.20,297.29 L83.07,297.10 L83.94,296.91 L84.82,296.72 L85.71,296.53 L86.60,296.33 L87.49,296.13 L88.39,295.94 L89.29,295.73 L90.20,295.53 L91.11,295.33 L92.02,295.12 L92.94,294.92 L93.87,294.71 L94.80,294.50 L95.73,294.28 L96.67,294.07 L97.62,293.85 L98.57,293.64 L99.52,293.42 L100.48,293.20 L101.44,292.97 L102.41,292.75 L103.38,292.52 L104.36,292.30 L105.35,292.07 L106.33,291.84 L107.33,291.60 L108.32,291.37 L109.33,291.14 L110.34,290.90 L111.35,290.66 L112.37,290.42 L113.39,290.18 L114.42,289.94 L115.45,289.69 L116.49,289.44 L117.54,289.20 L118.59,288.95 L119.64,288.70 L120.70,288.44 L121.77,288.19 L122.84,287.94 L123.91,287.68 L124.99,287.42 L126.08,287.16 L127.17,286.90 L128.27,286.64 L129.38,286.37 L130.49,286.11 L131.60,285.84 L132.72,285.57 L133.85,285.30 L134.98,285.03 L136.12,284.76 L137.26,284.49 L138.41,284.21 L139.56,283.93 L140.72,283.66 L141.89,283.38 L143.06,283.10 L144.24,282.81 L145.42,282.53 L146.61,282.25 L147.81,281.96 L149.01,281.67 L150.22,281.38 L151.44,281.09 L152.66,280.80 L153.88,280.51 L155.12,280.22 L156.35,279.92 L157.60,279.63 L158.85,279.33 L160.11,279.03 L161.37,278.73 L162.64,278.43 L163.92,278.13 L165.20,277.82 L166.49,277.52 L167.79,277.21 L169.09,276.90 L170.40,276.59 L171.72,276.29 L173.04,275.97 L174.37,275.66 L175.71,275.35 L177.05,275.04 L178.40,274.72 L179.76,274.40 L181.12,274.09 L182.49,273.77 L183.87,273.45 L185.25,273.13 L186.64,272.80 L188.04,272.48 L189.45,272.16 L190.86,271.83 L192.28,271.51 L193.70,271.18 L195.14,270.85 L196.58,270.52 L198.03,270.19 L199.48,269.86 L200.95,269.53 L202.42,269.19 L203.89,268.86 L205.38,268.52 L206.87,268.19 L208.37,267.85 L209.88,267.51 L211.39,267.17 L212.92,266.83 L214.45,266.49 L215.99,266.15 L217.53,265.80 L219.09,265.46 L220.65,265.11 L222.22,264.77 L223.79,264.42 L225.38,264.07 L226.97,263.73 L228.58,263.38 L230.19,263.03 L231.80,262.67 L233.43,262.32 L235.06,261.97 L236.71,261.62 L238.36,261.26 L240.01,260.91 L241.68,260.55 L243.36,260.19 L245.04,259.83 L246.73,259.48 L248.44,259.12 L250.15,258.76 L251.86,258.40 L253.59,258.03 L255.33,257.67 L257.07,257.31 L258.83,256.94 L260.59,256.58 L262.36,256.21 L264.14,255.85 L265.93,255.48 L267.73,255.11 L269.53,254.74 L271.35,254.38 L273.17,254.01 L275.01,253.64 L276.85,253.26 L278.71,252.89 L280.57,252.52 L282.44,252.15 L284.32,251.77 L286.21,251.40 L288.11,251.03 L290.02,250.65 L291.94,250.27 L293.87,249.90 L295.81,249.52 L297.76,249.14 L299.72,248.76 L301.69,248.38 L303.67,248.00 L305.65,247.62 L307.65,247.24 L309.66,246.86 L311.68,246.48 L313.71,246.10 L315.75,245.72 L317.80,245.33 L319.86,244.95 L321.93,244.57 L324.01,244.18 L326.10,243.80 L328.20,243.41 L330.31,243.02 L332.43,242.64 L334.57,242.25 L336.71,241.86 L338.87,241.47 L341.03,241.09 L343.21,240.70 L345.40,240.31 L347.60,239.92 L349.81,239.53 L352.03,239.14 L354.26,238.75 L356.50,238.36 L358.76,237.97 L361.03,237.57 L363.30,237.18 L365.59,236.79 L367.89,236.40 L370.21,236.00 L372.53,235.61 L374.87,235.22 L377.21,234.82 L379.57,234.43 L381.94,234.03 L384.33,233.64 L386.72,233.24 L389.13,232.85 L391.55,232.45 L393.98,232.06 L396.43,231.66 L398.88,231.26 L401.35,230.87 L403.83,230.47 L406.33,230.07 L408.83,229.68 L411.35,229.28 L413.88,228.88 L416.43,228.48 L418.98,228.08 L421.55,227.69 L424.14,227.29 L426.73,226.89 L429.34,226.49 L431.97,226.09 L434.60,225.69 L437.25,225.29 L439.91,224.90 L442.59,224.50 L445.28,224.10 L447.98,223.70 L450.70,223.30 L453.43,222.90 L456.17,222.50 L458.93,222.10 L461.70,221.70" stroke="#0000f0"/>
<path d="M59.50,301.80 L60.26,301.66 L61.02,301.51 L61.78,301.37 L62.55,301.22 L63.32,301.07 L64.10,300.91 L64.88,300.76 L65.66,300.60 L66.45,300.45 L67.24,300.29 L68.04,300.12 L68.84,299.96 L69.64,299.80 L70.45,299.63 L71.26,299.46 L72.08,299.29 L72.90,299.12 L73.72,298.94 L74.55,298.76 L75.38,298.59 L76.22,298.41 L77.06,298.22 L77.90,298.04 L78.75,297.86 L79.61,297.67 L80.47,297.48 L81.33,297.29 L82.20,297.10 L83.07,296.90 L83.94,296.71 L84.82,296.51 L85.71,296.31 L86.60,296.11 L87.49,295.91 L88.39,295.70 L89.29,295.50 L90.20,295.29 L91.11,295.08 L92.02,294.87 L92.94,294.66 L93.87,294.44 L94.80,294.23 L95.73,294.01 L96.67,293.79 L97.62,293.57 L98.57,293.35 L99.52,293.12 L100.48,292.90 L101.44,292.67 L102.41,292.44 L103.38,292.21 L104.36,291.98 L105.35,291.74 L106.33,291.51 L107.33,291.27 L108.32,291.03 L109.33,290.79 L110.34,290.55 L111.35,290.31 L112.37,290.07 L113.39,289.82 L114.42,289.57 L115.45,289.32 L116.49,289.07 L117.54,288.82 L118.59,288.57 L119.64,288.31 L120.70,288.06 L121.77,287.80 L122.84,287.54 L123.91,287.28 L124.99,287.02 L126.08,286.76 L127.17,286.49 L128.27,286.23 L129.38,285.96 L130.49,285.69 L131.60,285.42 L132.72,285.15 L133.85,284.87 L134.98,284.60 L136.12,284.32 L137.26,284.05 L138.41,283.77 L139.56,283.49 L140.72,283.21 L141.89,282.92 L143.06,282.64 L144.24,282.35 L145.42,282.07 L146.61,281.78 L147.81,281.49 L149.01,281.20 L150.22,280.91 L151.44,280.62 L152.66,280.32 L153.88,280.03 L155.12,279.73 L156.35,279.43 L157.60,279.13 L158.85,278.83 L160.11,278.53 L161.37,278.23 L162.64,277.92 L163.92,277.62 L165.20,277.31 L166.49,277.01 L167.79,276.70 L169.09,276.39 L170.40,276.08 L171.72,275.76 L173.04,275.45 L174.37,275.14 L175.71,274.82 L177.05,274.50 L178.40,274.18 L179.76,273.87 L181.12,273.55 L182.49,273.22 L183.87,272.90 L185.25,272.58 L186.64,272.25 L188.04,271.93 L189.45,271.60 L190.86,271.27 L192.28,270.95 L193.70,270.62 L195.14,270.28 L196.58,269.95 L198.03,269.62 L199.48,269.29 L200.95,268.95 L202.42,268.62 L203.89,268.28 L205.38,267.94 L206.87,267.60 L208.37,267.26 L209.88,266.92 L211.39,266.58 L212.92,266.24 L214.45,265.89 L215.99,265.55 L217.53,265.20 L219.09,264.86 L220.65,264.51 L222.22,264.16 L223.79,263.81 L225.38,263.46 L226.97,263.11 L228.58,262.76 L230.19,262.41 L231.80,262.05 L233.43,261.70 L235.06,261.34 L236.71,260.99 L238.36,260.63 L240.01,260.27 L241.68,259.91 L243.36,259.55 L245.04,259.19 L246.73,258.83 L248.44,258.47 L250.15,258.11 L251.86,257.74 L253.59,257.38 L255.33,257.01 L257.07,256.65 L258.83,256.28 L260.59,255.91 L262.36,255.55 L264.14,255.18 L265.93,254.81 L267.73,254.44 L269.53,254.07 L271.35,253.70 L273.17,253.32 L275.01,252.95 L276.85,252.58 L278.71,252.20 L280.57,251.83 L282.44,251.45 L284.32,251.07 L286.21,250.70 L288.11,250.32 L290.02,249.94 L291.94,249.56 L293.87,249.18 L295.81,248.80 L297.76,248.42 L299.72,248.04 L301.69,247.66 L303.67,247.28 L305.65,246.89 L307.65,246.51 L309.66,246.12 L311.68,245.74 L313.71,245.35 L315.75,244.97 L317.80,244.58 L319.86,244.19 L321.93,243.81 L324.01,243.42 L326.10,243.03 L328.20,242.64 L330.31,242.25 L332.43,241.86 L334.57,241.47 L336.71,241.08 L338.87,240.69 L341.03,240.30 L343.21,239.90 L345.40,239.51 L347.60,239.12 L349.81,238.72 L352.03,238.33 L354.26,237.94 L356.50,237.54 L358.76,237.15 L361.03,236.75 L363.30,236.35 L365.59,235.96 L367.89,235.56 L370.21,235.16 L372.53,234.77 L374.87,234.37 L377.21,233.97 L379.57,233.57 L381.94,233.17 L384.33,232.77 L386.72,232.37 L389.13,231.97 L391.55,231.57 L393.98,231.17 L396.43,230.77 L398.88,230.37 L401.35,229.97 L403.83,229.57 L406.33,229.16 L408.83,228.76 L411.35,228.36 L413.88,227.96 L416.43,227.55 L418.98,227.15 L421.55,226.75 L424.14,226.34 L426.73,225.94 L429.34,225.54 L431.97,225.13 L434.60,224.73 L437.25,224.32 L439.91,223.92 L442.59,223.51 L445.28,223.11 L447.98,222.70 L450.70,222.30 L453.43,221.89 L456.17,221.49 L458.93,221.08 L461.70,220.68" stroke="#0000f0" stroke-dasharray="3.4 3.0"/>
</g>
<path d="M59.85,0V302.5 M58.8,302.5H463 M461.7,0V303.5 M58.8,0.9H463" stroke="#000" stroke-width="2.05" fill="none"/>
<rect x="351" y="10.8" width="97" height="39.2" fill="#fff" stroke="#000" stroke-width="2"/>
<text transform="translate(364.76,37.2) scale(1.099,1)" font-size="23.5" fill="#000" stroke="#000" stroke-width="0.25" style="font-family:'Liberation Serif',serif;">τ</text>
<text transform="translate(375.53,44.2) scale(1.202,1)" font-size="14.2" fill="#000" stroke="#000" stroke-width="0.25" style="font-family:'Liberation Serif',serif;">D</text>
<text transform="translate(388.0,37.2) scale(0.904,1)" font-size="23.5" fill="#000" stroke="#000" stroke-width="0.12" style="font-family:'Liberation Serif',serif;">=</text>
<text transform="translate(401.53,37.2) scale(1.119,1)" font-size="23.5" fill="#000" stroke="#000" stroke-width="0.25" style="font-family:'Liberation Serif',serif;">0</text>
<text transform="translate(415.77,37.2) scale(1.082,1)" font-size="23.5" fill="#000" stroke="#000" stroke-width="0.5" style="font-family:'Liberation Serif',serif;">.</text>
<text transform="translate(422.56,37.2) scale(0.901,1)" font-size="23.5" fill="#000" stroke="#000" stroke-width="0.25" style="font-family:'Liberation Serif',serif;">1</text>
<text transform="translate(54.9,25.4) scale(1.06,1)" font-size="17.3" fill="#000" text-anchor="end" stroke="#000" stroke-width="0.3" style="font-family:'Liberation Serif',serif;">0.8</text>
<text transform="translate(54.9,167.4) scale(1.06,1)" font-size="17.3" fill="#000" text-anchor="end" stroke="#000" stroke-width="0.3" style="font-family:'Liberation Serif',serif;">0.4</text>
<text transform="translate(54.9,309.4) scale(1.06,1)" font-size="17.3" fill="#000" text-anchor="end" stroke="#000" stroke-width="0.3" style="font-family:'Liberation Serif',serif;">0.0</text>
<text transform="translate(59.6,319.9) scale(1.08,1)" font-size="16.2" fill="#000" text-anchor="middle" stroke="#000" stroke-width="0.32" style="font-family:'Liberation Serif',serif;">0</text>
<text transform="translate(185.2,319.9) scale(1.08,1)" font-size="16.2" fill="#000" text-anchor="middle" stroke="#000" stroke-width="0.32" style="font-family:'Liberation Serif',serif;">5</text>
<text transform="translate(311.5,319.9) scale(1.08,1)" font-size="16.2" fill="#000" text-anchor="middle" letter-spacing="0.9" stroke="#000" stroke-width="0.32" style="font-family:'Liberation Serif',serif;">10</text>
<text transform="translate(436.3,319.9) scale(1.08,1)" font-size="16.2" fill="#000" text-anchor="middle" letter-spacing="0.9" stroke="#000" stroke-width="0.32" style="font-family:'Liberation Serif',serif;">15</text>
<text transform="translate(158.24,23) scale(1.117,1)" font-size="18.8" fill="#ff0000" stroke="#ff0000" stroke-width="0.3" style="font-family:'Liberation Serif',serif;">t</text>
<text transform="translate(165.34,23) scale(0.812,1)" font-size="18.8" fill="#ff0000" stroke="#ff0000" stroke-width="0.4" style="font-family:'Liberation Serif',serif;">=</text>
<text transform="translate(176.01,23) scale(1.179,1)" font-size="18.8" fill="#ff0000" stroke="#ff0000" stroke-width="0.3" style="font-family:'Liberation Serif',serif;">0</text>
<text transform="translate(104.71,37.6) scale(1.189,1)" font-size="18.8" fill="#00fa00" stroke="#00fa00" stroke-width="0.32" style="font-family:'Liberation Serif',serif;">0</text>
<text transform="translate(116.21,37.6) scale(1.037,1)" font-size="18.8" fill="#00fa00" stroke="#00fa00" stroke-width="0.4" style="font-family:'Liberation Serif',serif;">.</text>
<text transform="translate(121.42,37.6) scale(0.994,1)" font-size="18.8" fill="#00fa00" stroke="#00fa00" stroke-width="0.32" style="font-family:'Liberation Serif',serif;">1</text>
<text transform="translate(119.45,82.6) scale(1.139,1)" font-size="18.8" fill="#0070ff" stroke="#0070ff" stroke-width="0.32" style="font-family:'Liberation Serif',serif;">0</text>
<text transform="translate(130.73,82.6) scale(0.947,1)" font-size="18.8" fill="#0070ff" stroke="#0070ff" stroke-width="0.4" style="font-family:'Liberation Serif',serif;">.</text>
<text transform="translate(135.78,82.6) scale(1.08,1)" font-size="18.8" fill="#0070ff" stroke="#0070ff" stroke-width="0.32" style="font-family:'Liberation Serif',serif;">5</text>
<text transform="translate(131.72,102.7) scale(0.97,1)" font-size="18.8" fill="#ff00f0" letter-spacing="0.2" stroke="#ff00f0" stroke-width="0.32" style="font-family:'Liberation Serif',serif;">1</text>
<text transform="translate(140.18,129.7) scale(1.14,1)" font-size="18.8" fill="#00a8a8" letter-spacing="0.2" stroke="#00a8a8" stroke-width="0.32" style="font-family:'Liberation Serif',serif;">2</text>
<text transform="translate(152.93,195.3) scale(1.14,1)" font-size="18.8" fill="#ff7800" letter-spacing="0.2" stroke="#ff7800" stroke-width="0.32" style="font-family:'Liberation Serif',serif;">10</text>
<text transform="translate(195.18,263.4) scale(1.14,1)" font-size="18.8" fill="#0000f0" letter-spacing="0.2" stroke="#0000f0" stroke-width="0.32" style="font-family:'Liberation Serif',serif;">50</text>
<g fill="none" stroke="#000" stroke-linecap="round" stroke-linejoin="round">
<path d="M367.5,326.6 Q368.5,325.5 369.6,325.5" stroke-width="1.2"/>
<path d="M369.8,325.8 C370.8,327.6 372.2,331.5 372.9,335.2 L372.7,342" stroke-width="2.3"/>
<path d="M377.3,325.8 C376.9,328.8 375.0,332.3 373.1,335.4" stroke-width="1.9"/><circle cx="377.3" cy="326" r="1.15" fill="#000" stroke="none"/>
</g>
<path d="M-1.5,74.9 L14.8,68.1 L29.7,74.4 M-1.5,99.6 L14.8,106.4 L29.7,99.3" stroke="#000" stroke-width="1.1" fill="none"/>
<text transform="translate(22.0,97.65) rotate(-90) scale(0.88,1)" font-size="26" fill="#000" font-style="italic" style="font-family:'Liberation Serif',serif;">q</text>
<text transform="translate(11.2,84.6) rotate(-90)" font-size="15" fill="#000" style="font-family:'Liberation Serif',serif;">2</text>
<text transform="translate(29.7,71.5) rotate(-90) scale(1.16,1)" font-size="15.5" fill="#000" style="font-family:'Liberation Serif',serif;">pq</text>
<path d="M7.4,92.9 L4.3,89.9 L7.4,87.0" stroke="#000" stroke-width="0.9" fill="none"/>
</svg>
</body></html>
